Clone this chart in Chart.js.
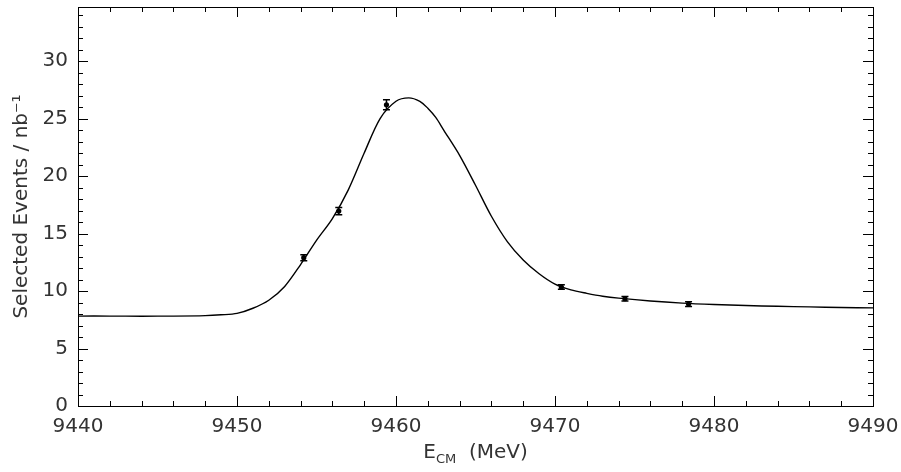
<!DOCTYPE html>
<html>
<head>
<meta charset="utf-8">
<script src="https://cdn.jsdelivr.net/npm/chart.js@4"></script>
<style>
  html, body { margin: 0; padding: 0; background: #fff; }
  #wrap { width: 901px; height: 472px; }
</style>
</head>
<body>
<div id="wrap"><canvas id="scan-chart"></canvas></div>
<script>
// --measured points-- //
const pointE = [9454.2, 9456.4, 9459.4, 9470.4, 9474.4, 9478.4];
const pointVal = [12.9, 16.95, 26.2, 10.35, 9.33, 8.86];
const pointErr = [0.26, 0.32, 0.44, 0.2, 0.2, 0.2];

// --fitted line shape-- //
const fitE = [9440, 9442, 9444, 9446, 9448, 9449, 9450, 9451, 9452, 9453, 9454, 9455, 9456, 9457,
  9458, 9459, 9460, 9460.8, 9461.5, 9462, 9462.5, 9463, 9464, 9465, 9466, 9467, 9468, 9469,
  9470, 9471, 9472, 9473, 9474, 9476, 9478, 9480, 9482, 9484, 9486, 9488, 9490];
const fitVal = [7.82, 7.82, 7.81, 7.82, 7.86, 7.93, 8.05, 8.5, 9.2, 10.4, 12.3, 14.4, 16.3, 18.8,
  22.0, 25.0, 26.5, 26.8, 26.5, 25.9, 25.1, 24.0, 21.8, 19.2, 16.5, 14.3, 12.7, 11.5,
  10.6, 10.1, 9.8, 9.55, 9.38, 9.13, 8.95, 8.83, 8.74, 8.67, 8.62, 8.57, 8.53];

const xMin = 9440, xMax = 9490;
const yMin = 0, yMax = 34.7;
const fontFace = '"DejaVu Sans", sans-serif';
const textColor = '#333';

const scanCanvas = document.getElementById('scan-chart');

// inward ticks on all four sides plus the frame
const frameTicks = {
  id: 'frameTicks',
  afterDraw(chart) {
    const ctx = chart.ctx;
    const a = chart.chartArea;
    const xs = chart.scales.x, ys = chart.scales.y;
    ctx.save();
    ctx.strokeStyle = '#000';
    ctx.lineWidth = 1;
    ctx.strokeRect(a.left + 0.5, a.top + 0.5, a.right - a.left, a.bottom - a.top);
    ctx.beginPath();
    for (let v = xMin; v <= xMax; v += 2) {
      const px = Math.round(xs.getPixelForValue(v)) + 0.5;
      const len = (v % 10 === 0) ? 10 : 5;
      ctx.moveTo(px, a.bottom);
      ctx.lineTo(px, a.bottom - len);
      ctx.moveTo(px, a.top);
      ctx.lineTo(px, a.top + len);
    }
    for (let v = 0; v <= 34; v += 1) {
      const py = Math.round(ys.getPixelForValue(v)) + 0.5;
      const len = (v % 5 === 0) ? 10 : 5;
      ctx.moveTo(a.left, py);
      ctx.lineTo(a.left + len, py);
      ctx.moveTo(a.right, py);
      ctx.lineTo(a.right - len, py);
    }
    ctx.stroke();

    // x axis title with subscript
    const cx = (a.left + a.right) / 2;
    const ty = 458;
    ctx.fillStyle = textColor;
    ctx.textBaseline = 'alphabetic';
    ctx.font = '20px ' + fontFace;
    const wE = ctx.measureText('E').width;
    const wRest = ctx.measureText('  (MeV)').width;
    ctx.font = '13px ' + fontFace;
    const wSub = ctx.measureText('CM').width;
    let x0 = cx - (wE + wSub + wRest) / 2;
    ctx.font = '20px ' + fontFace;
    ctx.fillText('E', x0, ty);
    ctx.font = '13px ' + fontFace;
    ctx.fillText('CM', x0 + wE, ty + 5);
    ctx.font = '20px ' + fontFace;
    ctx.fillText('  (MeV)', x0 + wE + wSub, ty);
    ctx.restore();
  }
};

// vertical error bars with caps
const errorBars = {
  id: 'errorBars',
  afterDatasetsDraw(chart) {
    const ctx = chart.ctx;
    const xs = chart.scales.x, ys = chart.scales.y;
    ctx.save();
    ctx.strokeStyle = '#000';
    ctx.lineWidth = 1.5;
    ctx.beginPath();
    for (let i = 0; i < pointE.length; i++) {
      const px = xs.getPixelForValue(pointE[i]);
      const hi = ys.getPixelForValue(pointVal[i] + pointErr[i]);
      const lo = ys.getPixelForValue(pointVal[i] - pointErr[i]);
      ctx.moveTo(px, hi);
      ctx.lineTo(px, lo);
      ctx.moveTo(px - 3.5, hi);
      ctx.lineTo(px + 3.5, hi);
      ctx.moveTo(px - 3.5, lo);
      ctx.lineTo(px + 3.5, lo);
    }
    ctx.stroke();
    ctx.restore();
  }
};

const scanChart = new Chart(scanCanvas, {
  type: 'scatter',
  data: {
    datasets: [{
      data: pointE.map((e, i) => ({ x: e, y: pointVal[i] })),
      backgroundColor: '#000',
      borderColor: '#000',
      pointRadius: 2.6,
      pointBorderWidth: 0
    }, {
      type: 'line',
      data: fitE.map((e, i) => ({ x: e, y: fitVal[i] })),
      borderColor: '#000',
      borderWidth: 1.4,
      pointRadius: 0,
      tension: 0.3,
      fill: false
    }]
  },
  options: {
    responsive: true,
    maintainAspectRatio: false,
    animation: false,
    layout: { padding: { top: 7, right: 28, left: 0, bottom: 0 } },
    scales: {
      x: {
        type: 'linear',
        min: xMin,
        max: xMax,
        grid: { display: false, drawTicks: false },
        border: { display: false },
        ticks: {
          stepSize: 10,
          includeBounds: false,
          padding: 9,
          color: textColor,
          font: { family: fontFace, size: 20 },
          maxRotation: 0,
          callback: (v) => String(v)
        },
        afterFit: (scale) => {
          scale.height = 66;
          scale.paddingLeft = 0;
          scale.paddingRight = 0;
        }
      },
      y: {
        min: yMin,
        max: yMax,
        grid: { display: false, drawTicks: false },
        border: { display: false },
        ticks: {
          stepSize: 5,
          includeBounds: false,
          padding: 10,
          color: textColor,
          font: { family: fontFace, size: 20 },
          callback: (v) => String(v)
        },
        title: {
          display: true,
          text: 'Selected Events / nb⁻¹',
          color: textColor,
          font: { family: fontFace, size: 20 },
          padding: { top: 10, bottom: 0 }
        },
        afterFit: (scale) => {
          scale.width = 78;
          scale.paddingTop = 0;
          scale.paddingBottom = 0;
        }
      }
    },
    plugins: {
      legend: { display: false },
      tooltip: { enabled: false }
    }
  },
  plugins: [errorBars, frameTicks]
});
</script>
</body>
</html>
